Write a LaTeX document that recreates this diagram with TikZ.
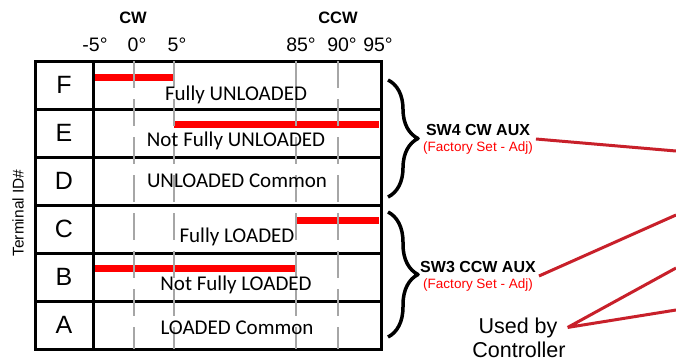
\documentclass[tikz,border=0pt]{standalone}
\usepackage{fontspec}
\setmainfont{Liberation Sans}
\newfontfamily\calfont{Carlito}
\usetikzlibrary{
    decorations.pathreplacing,
    positioning
}
\definecolor{barred}{HTML}{FF0000}
\definecolor{wirered}{HTML}{C8202A}
\definecolor{dashgray}{HTML}{A6A6A6}

\begin{document}
\begin{tikzpicture}[x=1pt,y=-1pt,
                            rowlbl/.style={font=\fontsize{25}{25}\selectfont},
                            rowtext/.style={font=\calfont\fontsize{21}{21}\selectfont},
                            deg/.style={font=\fontsize{19.5}{19.5}\selectfont},
                            head/.style={font=\bfseries\fontsize{16.5}{16.5}\selectfont},
                            swname/.style={align=center, inner sep=3pt, font=\bfseries\fontsize{16}{17}\selectfont},
                            bar/.style={barred, line width=7pt},
                            wire/.style={wirered, line width=3pt},
                            tablebox/.style={line width=3pt},
                            guide/.style={dashgray, line width=2.5pt, dash pattern=on 27pt off 11pt},
                            bracket/.style={decorate, decoration={brace, amplitude=30pt}, line width=3.5pt, line join=round}]
                            \useasboundingbox (0,0) rectangle (676,362);
                            \node[head] (cw) at (133,18) {CW};
                            \node[head] (ccw) at (338,18) {CCW};
                            \node[deg] (dm5) at (95,45) {-5°};
                            \node[deg] (d0) at (137,45) {0°};
                            \node[deg] (d5) at (177,45) {5°};
                            \node[deg] (d85) at (301,45) {85°};
                            \node[deg] (d90) at (342,45) {90°};
                            \node[deg] (d95) at (378,45) {95°};
                            \node[rotate=90, font=\fontsize{15.5}{15.5}\selectfont] (tid) at (18,213) {Terminal ID\#};
                            \draw[bar] (93,77) -- (174,77);
                            \draw[bar] (174,124) -- (379,124);
                            \draw[bar] (295,220) -- (379,220);
                            \draw[bar] (93,268) -- (297,268);
                            \draw[tablebox] (35,61) rectangle (381,349);
                            \draw[tablebox] (93,61) -- (93,349);
                            \foreach \y in {109,157,205,253,301}
                                \draw[tablebox] (35,\y) -- (381,\y);
                            \foreach \x in {134,174,296,338}
                                \draw[guide] (\x,61) -- (\x,349);
                            \node[rowlbl] (f) at (64,85) {F};
                            \node[rowlbl] (e) at (64,133) {E};
                            \node[rowlbl] (d) at (64,181) {D};
                            \node[rowlbl] (c) at (64,229) {C};
                            \node[rowlbl] (b) at (64,277) {B};
                            \node[rowlbl] (a) at (64,325) {A};
                            \node[rowtext] (fu) at (236,95) {Fully UNLOADED};
                            \node[rowtext] (nfu) at (236,141) {Not Fully UNLOADED};
                            \node[rowtext] (uc) at (237,181) {UNLOADED Common};
                            \node[rowtext] (fl) at (237,237) {Fully LOADED};
                            \node[rowtext] (nfl) at (236,285) {Not Fully LOADED};
                            \node[rowtext] (lc) at (237,328) {LOADED Common};
                            \draw[bracket] (388,80) -- (388,197);
                            \draw[bracket] (388,212) -- (388,337);
                            \node[swname] (sw4) at (478,139) {SW4 CW AUX\\[-1pt]{\color{barred}\mdseries\fontsize{13.5}{13.5}\selectfont(Factory Set - Adj)}};
                            \node[swname] (sw3) at (478,276) {SW3 CCW AUX\\[-1pt]{\color{barred}\mdseries\fontsize{13.5}{13.5}\selectfont(Factory Set - Adj)}};
                            \node[font=\fontsize{21.5}{21.5}\selectfont, anchor=base, inner xsep=10pt] (used) at (518,333) {Used by};
                            \node[font=\fontsize{21.5}{21.5}\selectfont, anchor=base, inner sep=1pt] (ctl) at (519,357) {Controller};
                            \coordinate (p1) at (676,151);
                            \coordinate (p2) at (676,215);
                            \coordinate (p3) at (676,268);
                            \coordinate (p4) at (676,310);
                            \draw[wire]
                            (sw4.east) -- (p1)
                            (sw3.east) -- (p2)
                            (used.east) -- (p3)
                            (used.east) -- (p4);
                        \end{tikzpicture}
\end{document}
